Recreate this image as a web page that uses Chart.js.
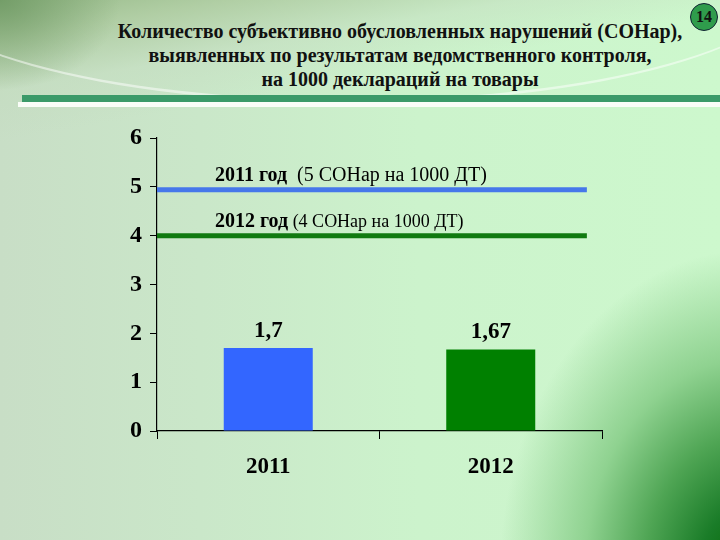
<!DOCTYPE html>
<html><head><meta charset="utf-8">
<script src="https://cdn.jsdelivr.net/npm/chart.js@4.4.1/dist/chart.umd.min.js"></script>
<style>
html,body{margin:0;padding:0;width:720px;height:540px;overflow:hidden;}
#bg{position:absolute;left:0;top:0;width:720px;height:540px;
background:
 radial-gradient(ellipse 250px 320px at 750px 570px, #006400 0%, #1a7c28 20%, #4fa554 42%, #8fd290 66%, rgba(200,245,200,0) 100%),
 radial-gradient(ellipse 120px 90px at 0px 0px, rgba(100,145,90,0.7) 0%, rgba(120,165,110,0) 100%),
 linear-gradient(170deg, rgba(150,185,135,0.95) 0px, rgba(170,200,155,0.8) 40px, rgba(195,220,190,0.5) 90px, rgba(205,235,205,0) 140px),
 linear-gradient(90deg, #c8dec6 0px, #cae7c9 200px, #ccf3cc 420px, #cdf8cd 720px);}
#swoosh{position:absolute;left:-100px;top:-150px;width:900px;height:250px;border-radius:50%;
 border-bottom:3px solid rgba(255,255,255,0.5);}
#title{position:absolute;left:0;top:19px;width:800px;text-align:center;
 font-family:"Liberation Serif","Times New Roman",serif;font-weight:bold;font-size:20px;line-height:24px;color:#111;}
#band{position:absolute;left:22px;top:95px;width:698px;height:7px;background:#3b9a69;}
#band2{position:absolute;left:18px;top:102px;width:702px;height:5px;background:#fafdf8;}
#badge{position:absolute;left:690px;top:3px;width:26px;height:26px;border-radius:50%;background:#2f9c4c;border:1.5px solid #123;
 font-family:"Liberation Serif",serif;font-weight:bold;font-size:16px;line-height:26px;text-align:center;color:#111;}
canvas{position:absolute;left:0;top:0;}
</style></head>
<body>
<div id="bg"></div>
<div id="swoosh"></div>
<div id="title">Количество субъективно обусловленных нарушений (СОНар),<br>выявленных по результатам ведомственного контроля,<br>на 1000 деклараций на товары</div>
<div id="band"></div><div id="band2"></div>
<div id="badge">14</div>
<canvas id="c" width="720" height="540"></canvas>
<script>
const categories = ['2011', '2012'];
const barValues = [1.7, 1.67];
const barColors = ['#3366ff', '#008000'];
const refValues = [4.94, 4.0];
const refColors = ['#4677ea', '#107a10'];
const refBold = ['2011 год', '2012 год'];
const refRest = ['  (5 СОНар на 1000 ДТ)', ' (4 СОНар на 1000 ДТ)'];
const yTicks = [0, 1, 2, 3, 4, 5, 6];

const serif = '"Liberation Serif","Times New Roman",serif';
const refRestFont = ['20px ', '18px '];

const labelPlugin = {
  id: 'labels',
  afterDatasetsDraw(chart) {
    const ctx = chart.ctx;
    const meta = chart.getDatasetMeta(0);
    ctx.save();
    ctx.fillStyle = '#000';
    ctx.textAlign = 'center';
    ctx.textBaseline = 'alphabetic';
    ctx.font = 'bold 23px ' + serif;
    meta.data.forEach((bar, i) => {
      ctx.fillText(String(barValues[i]).replace('.', ','), bar.x, bar.y - 11);
    });
    const ys = chart.scales.y;
    const xs = chart.scales.x;
    ctx.textAlign = 'left';
    refValues.forEach((v, i) => {
      const y = ys.getPixelForValue(v) - 9;
      const x = xs.left + 58;
      ctx.font = 'bold 20px ' + serif;
      ctx.fillText(refBold[i], x, y);
      const w = ctx.measureText(refBold[i]).width;
      ctx.font = refRestFont[i] + serif;
      ctx.fillText(refRest[i], x + w, y);
    });
    ctx.restore();
  }
};

const lineDatasets = refValues.map((v, i) => ({
  type: 'line',
  data: [{x: 0, y: v}, {x: 0.966, y: v}],
  xAxisID: 'x2',
  borderColor: refColors[i],
  borderWidth: 5,
  pointRadius: 0,
  fill: false
}));

new Chart(document.getElementById('c'), {
  data: {
    labels: categories,
    datasets: [{
      type: 'bar',
      data: barValues,
      backgroundColor: barColors,
      grouped: false,
      barPercentage: 0.8,
      categoryPercentage: 0.5,
      xAxisID: 'x'
    }, ...lineDatasets]
  },
  options: {
    responsive: false,
    animation: false,
    layout: {padding: {top: 138, right: 118, left: 0, bottom: 0}},
    plugins: {legend: {display: false}, tooltip: {enabled: false}},
    scales: {
      x: {
        type: 'category',
        afterFit(s) { s.height = 109; },
        grid: {drawOnChartArea: false, drawTicks: true, tickLength: 8, color: '#000', offset: true},
        border: {display: true, color: '#000', width: 1.2},
        ticks: {color: '#000', font: {family: serif, weight: 'bold', size: 23}, padding: 14}
      },
      x2: {type: 'linear', min: 0, max: 1, display: false},
      y: {
        min: 0, max: 6,
        afterFit(s) { s.width = 157; },
        afterBuildTicks(s) { s.ticks = yTicks.map(v => ({value: v})); },
        grid: {drawOnChartArea: false, drawTicks: true, tickLength: 7, color: '#000'},
        border: {display: true, color: '#000', width: 1.2},
        ticks: {color: '#000', font: {family: serif, weight: 'bold', size: 24}, padding: 8}
      }
    }
  },
  plugins: [labelPlugin]
});
</script>
</body></html>
